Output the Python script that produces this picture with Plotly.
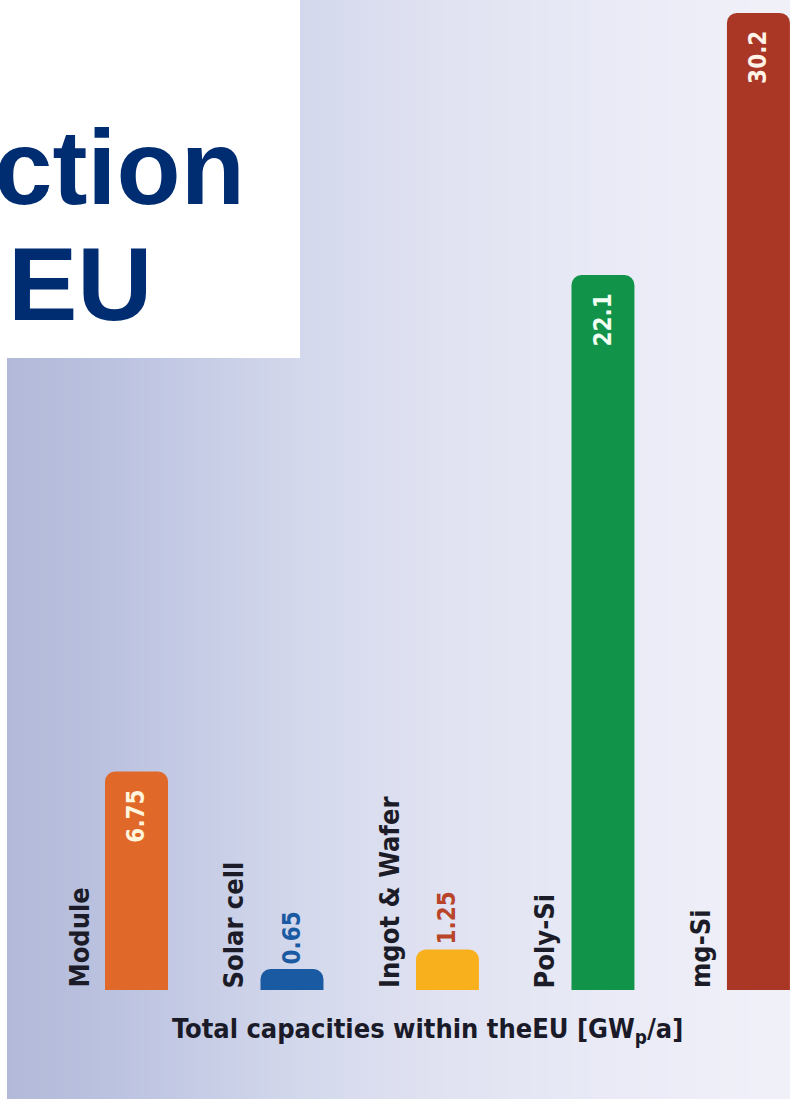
import plotly.graph_objects as go

# ---- data ----
categories = ["Module", "Solar cell", "Ingot & Wafer", "Poly-Si", "mg-Si"]
capacities = [6.75, 0.65, 1.25, 22.1, 30.2]
value_labels = ["6.75", "0.65", "1.25", "22.1", "30.2"]
bar_colors = ["#e06828", "#1a5aa2", "#f8b01c", "#12934a", "#aa3625"]
label_inside = [True, False, False, True, True]
value_text_colors = ["#fff4dc", "#1a5aa2", "#b8452a", "#f2fff2", "#fff2e6"]
axis_title = "Total capacities within theEU [GW<sub>p</sub>/a]"
title_parts = ["ction", "EU"]

W, H = 790, 1099
COND = "Liberation Sans Narrow, DejaVu Sans Condensed, Noto Sans Condensed, Roboto Condensed, Roboto, sans-serif"

fig = go.Figure()
fig.add_trace(go.Bar(
    x=categories, y=capacities,
    marker=dict(color=bar_colors, line=dict(width=0)),
    width=0.405,
    hoverinfo="skip",
))

# background gradient (horizontal)
stops = [(0, (178, 185, 217)), (120, (188, 195, 224)), (300, (211, 216, 236)),
         (420, (223, 225, 241)), (600, (233, 234, 246)), (790, (240, 241, 248))]

def col_at(px):
    for (x0, c0), (x1, c1) in zip(stops[:-1], stops[1:]):
        if x0 <= px <= x1:
            t = (px - x0) / (x1 - x0)
            return "rgb(%d,%d,%d)" % tuple(round(a + (b - a) * t) for a, b in zip(c0, c1))
    return "rgb(%d,%d,%d)" % stops[-1][1]

shapes = []
step = 5
for px in range(0, W, step):
    shapes.append(dict(type="rect", xref="paper", yref="paper",
                       x0=px / W, x1=(px + step + 0.5) / W, y0=0, y1=1,
                       fillcolor=col_at(px + step / 2), line=dict(width=0), layer="below"))
# white left strip and title box
shapes.append(dict(type="rect", xref="paper", yref="paper", x0=0, x1=7 / W, y0=0, y1=1,
                   fillcolor="white", line=dict(width=0), layer="below"))
shapes.append(dict(type="rect", xref="paper", yref="paper", x0=0, x1=300 / W,
                   y0=1 - 358 / H, y1=1, fillcolor="white", line=dict(width=0), layer="below"))

annotations = []
# category labels (rotated)
for c in categories:
    annotations.append(dict(x=c, y=0, xref="x", yref="y", text=c, showarrow=False,
                            textangle=-90, xanchor="center", yanchor="bottom", xshift=-58,
                            font=dict(family=COND, size=27, color="#1c1c28", weight="bold")))
# value labels
for c, v, t, inside, tc in zip(categories, capacities, value_labels, label_inside, value_text_colors):
    annotations.append(dict(x=c, y=v, xref="x", yref="y", text=t, showarrow=False,
                            textangle=-90, xanchor="center",
                            yanchor="top" if inside else "bottom",
                            yshift=-16 if inside else 3,
                            font=dict(family=COND, size=24, color=tc, weight="bold")))
# axis title
annotations.append(dict(x=427 / W, y=1 - 1030 / H, xref="paper", yref="paper", text=axis_title,
                        showarrow=False, xanchor="center", yanchor="middle",
                        font=dict(family=COND, size=27, color="#1a1a28", weight="bold")))
# cropped title
annotations.append(dict(x=247 / W, y=1 - 168 / H, xref="paper", yref="paper", text=title_parts[0],
                        showarrow=False, xanchor="right", yanchor="middle",
                        font=dict(family="Liberation Sans", size=105, color="#002d72", weight="bold")))
annotations.append(dict(x=6 / W, y=1 - 284 / H, xref="paper", yref="paper", text=title_parts[1],
                        showarrow=False, xanchor="left", yanchor="middle",
                        font=dict(family="Liberation Sans", size=104, color="#002d72", weight="bold")))

fig.update_layout(
    width=W, height=H,
    margin=dict(l=0, r=0, t=0, b=0),
    paper_bgcolor="#f0f1f8", plot_bgcolor="rgba(0,0,0,0)",
    showlegend=False, barcornerradius=10,
    xaxis=dict(range=[-0.878, 4.203], showticklabels=False, showgrid=False, zeroline=False,
               ticks="", showline=False, fixedrange=True),
    yaxis=dict(range=[0, 30.6], domain=[(H - 990) / H, 1], showticklabels=False, showgrid=False,
               zeroline=False, ticks="", showline=False, fixedrange=True),
    shapes=shapes, annotations=annotations,
)

fig.write_html("out.html", config={"displayModeBar": False})
